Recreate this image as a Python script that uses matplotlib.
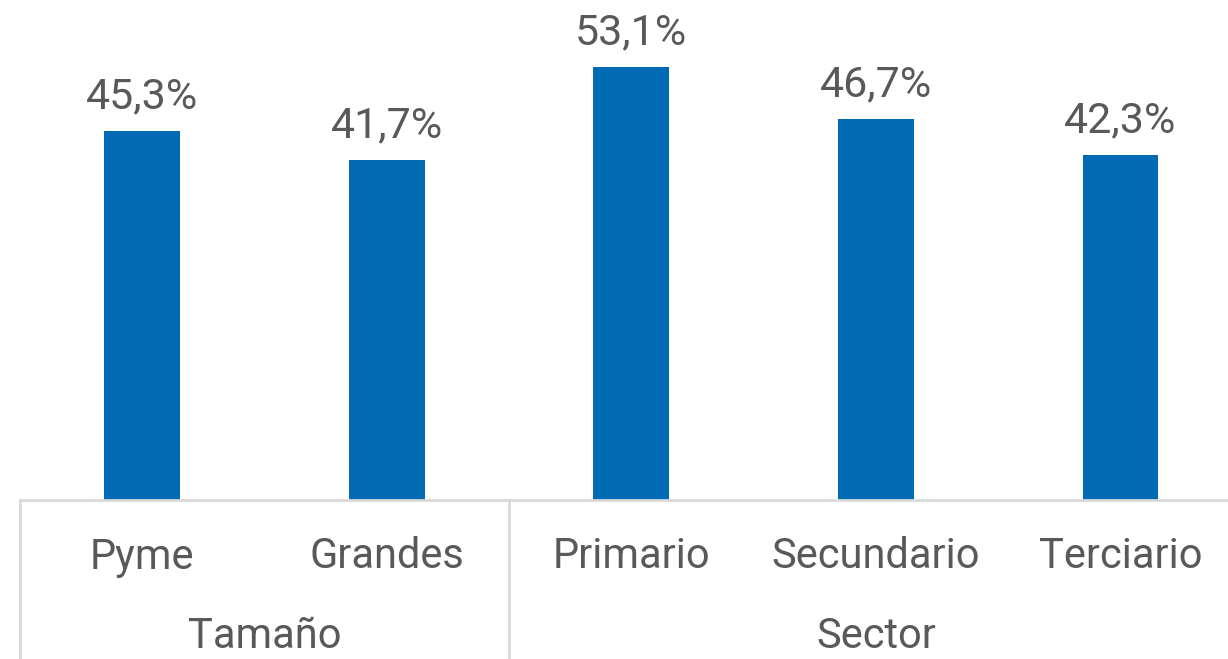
import matplotlib.pyplot as plt
from matplotlib.transforms import blended_transform_factory

categories = ["Pyme", "Grandes", "Primario", "Secundario", "Terciario"]
values = [45.3, 41.7, 53.1, 46.7, 42.3]
groups = ["Tamaño", "Sector"]
group_spans = [(0, 1), (2, 4)]

bar_color = "#006AB5"
text_color = "#595959"
line_color = "#D9D9D9"

plt.rcParams['font.family'] = ['Roboto', 'DejaVu Sans']

fig = plt.figure(figsize=(12.28, 6.59), dpi=100)
ax = fig.add_axes([20 / 1228, 1 - 500 / 659, 1 - 20 / 1228, 489 / 659])

x = list(range(len(categories)))
bars = ax.bar(x, values, width=0.31, color=bar_color)
for xi, v in zip(x, values):
    ax.annotate(f"{v:.1f}%".replace(".", ","), (xi, v), xytext=(0, 10),
                textcoords="offset points", ha="center", va="bottom",
                fontsize=31, color=text_color)

ax.set_xlim(-0.5, 4.44)
ax.set_ylim(0, 60)
ax.axis("off")

tr = blended_transform_factory(ax.transData, fig.transFigure)
# baseline
ax.plot([-0.5, 4.44], [0, 0], color=line_color, lw=2, clip_on=False)
# separators
for sx in [-0.5, 1.5]:
    ax.plot([sx, sx], [1 - 500 / 659, 0], color=line_color, lw=2,
            transform=tr, clip_on=False)

for xi, c in zip(x, categories):
    ax.text(xi, 1 - 557 / 659, c, transform=tr, ha="center", va="center",
            fontsize=30, color=text_color)
for g, (a, b) in zip(groups, group_spans):
    ax.text((a + b) / 2, 1 - 637 / 659, g, transform=tr, ha="center",
            va="center", fontsize=30, color=text_color)

fig.savefig("out.png", dpi=100)
